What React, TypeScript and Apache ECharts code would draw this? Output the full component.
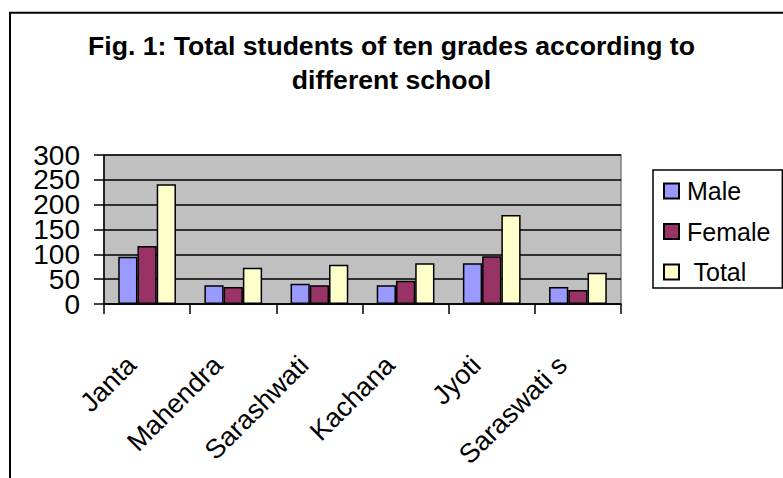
import React, { useEffect, useRef } from "react";
import * as echarts from "echarts";

const categories = ["Janta", "Mahendra", "Sarashwati", "Kachana", "Jyoti", "Saraswati s"];
const maleValues = [95, 38, 41, 38, 82, 34];
const femaleValues = [117, 34, 38, 47, 96, 28];
const totalValues = [241, 73, 79, 82, 179, 63];
const seriesNames = ["Male", "Female", " Total"];
const titleLines = ["Fig. 1: Total students of ten grades according to", "different school"];
const yMin = 0;
const yMax = 300;
const yStep = 50;

const FONT = "Arial, 'Liberation Sans', sans-serif";

export default function App() {
  const ref = useRef<HTMLDivElement>(null);
  useEffect(() => {
    if (!ref.current) return;
    const chart = echarts.init(ref.current, undefined, { renderer: "svg" });
    const barStyle = (color: string) => ({ color, borderColor: "#000", borderWidth: 1.5 });
    const yLabelStyle = { fontFamily: FONT, fontSize: 28, lineHeight: 16, color: "#000", margin: 24 };
    chart.setOption({
      animation: false,
      backgroundColor: "#fff",
      title: {
        text: titleLines.join("\n"),
        left: "center",
        top: 29,
        padding: 0,
        textStyle: { fontFamily: FONT, fontSize: 26.6, fontWeight: "bold", color: "#000", lineHeight: 34 },
      },
      graphic: [
        {
          type: "rect",
          shape: { x: 10, y: 12.7, width: 900, height: 900 },
          style: { fill: "none", stroke: "#000", lineWidth: 2 },
          silent: true,
        },
      ],
      legend: {
        orient: "vertical",
        left: 653,
        top: 170,
        padding: [8, 12, 3, 10],
        borderColor: "#000",
        borderWidth: 1.5,
        itemWidth: 15,
        itemHeight: 15,
        itemGap: 14.5,
        icon: "rect",
        data: seriesNames,
        textStyle: { fontFamily: FONT, fontSize: 25, color: "#000", lineHeight: 26, padding: [0, 0, 0, 3] },
      },
      grid: {
        left: 104,
        top: 155,
        width: 517,
        height: 149,
        show: true,
        backgroundColor: "#C0C0C0",
        borderColor: "#808080",
        borderWidth: 1.5,
      },
      xAxis: {
        type: "category",
        data: categories,
        axisLine: { lineStyle: { color: "#000", width: 1.5 } },
        axisTick: { show: true, length: 10, lineStyle: { color: "#000", width: 1.5 } },
        axisLabel: {
          rotate: 45,
          fontFamily: FONT,
          fontSize: 27,
          color: "#000",
          margin: 41,
          interval: 0,
          padding: [0, 22, 0, 0],
        },
      },
      yAxis: [
        {
          type: "value",
          min: yMin,
          max: yMax,
          interval: yStep,
          axisLine: { show: true, lineStyle: { color: "#000", width: 1.5 } },
          axisTick: { show: true, length: 10, lineStyle: { color: "#000", width: 1.5 } },
          axisLabel: {
            ...yLabelStyle,
            showMinLabel: true,
            showMaxLabel: true,
            hideOverlap: false,
            formatter: (v: number) => (v === yMin || v === yMax ? "" : String(v)),
          },
          splitLine: { show: true, lineStyle: { color: "#000", width: 1.5 } },
        },
        {
          type: "value",
          position: "left",
          min: yMin,
          max: yMax,
          interval: yMax - yMin,
          axisLine: { show: false },
          axisTick: { show: false },
          splitLine: { show: false },
          axisLabel: { ...yLabelStyle, showMinLabel: true, showMaxLabel: true },
        },
      ],
      series: [
        { name: seriesNames[0], type: "bar", data: maleValues, itemStyle: barStyle("#9999FF"), barGap: "0%", barCategoryGap: "33%" },
        { name: seriesNames[1], type: "bar", data: femaleValues, itemStyle: barStyle("#993366"), barGap: "0%", barCategoryGap: "33%" },
        { name: seriesNames[2], type: "bar", data: totalValues, itemStyle: barStyle("#FFFFCC"), barGap: "0%", barCategoryGap: "33%" },
      ],
    });
    return () => chart.dispose();
  }, []);
  return <div ref={ref} style={{ position: "fixed", left: 0, top: 0, width: 783, height: 478 }} />;
}
